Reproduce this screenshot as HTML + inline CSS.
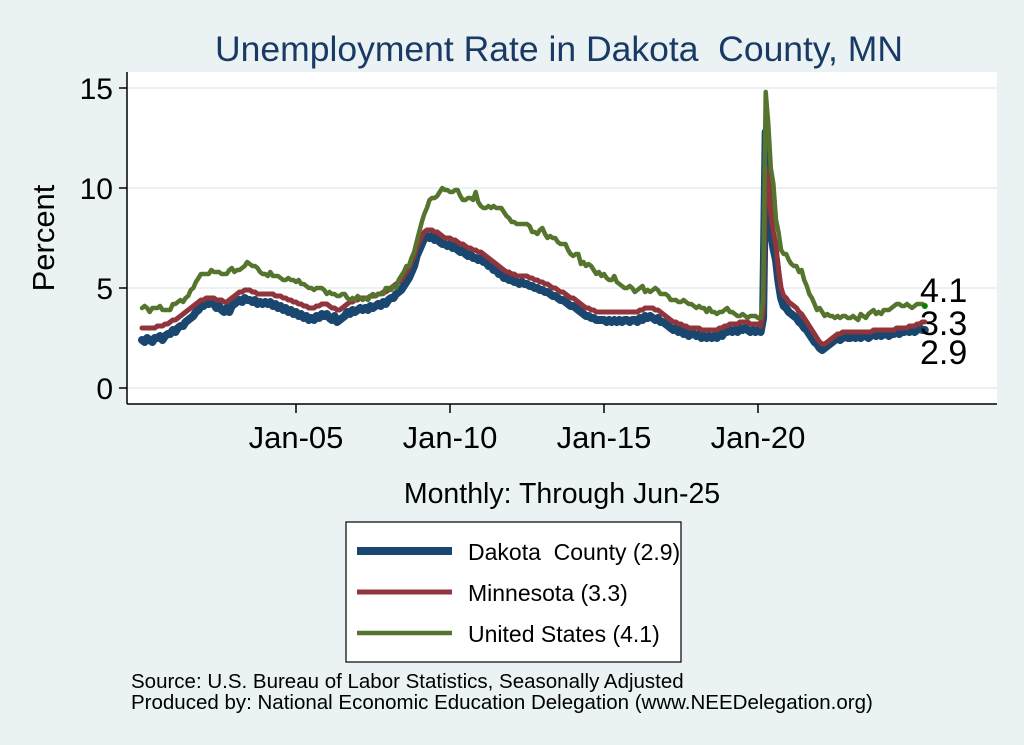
<!DOCTYPE html>
<html><head><meta charset="utf-8"><style>
body{margin:0;background:#eaf2f3;}
svg{display:block;font-family:"Liberation Sans",sans-serif;}
</style></head><body>
<svg id="c" width="1024" height="745" viewBox="0 0 1024 745">
<rect x="0" y="0" width="1024" height="745" fill="#eaf2f3"/>
<text x="559" y="61" text-anchor="middle" font-size="35.5" fill="#1a3a66" xml:space="preserve">Unemployment Rate in Dakota  County, MN</text>
<rect x="127" y="72" width="870" height="332" fill="#fff"/>
<g id="grid"></g>
<g id="series"></g>
<line x1="127" y1="72" x2="127" y2="404" stroke="#000" stroke-width="1.5"/>
<line x1="127" y1="404" x2="997" y2="404" stroke="#000" stroke-width="1.5"/>
<g id="axes"></g>
<text transform="translate(54,238) rotate(-90)" text-anchor="middle" font-size="31">Percent</text>
<text x="562" y="503" text-anchor="middle" font-size="28.5">Monthly: Through Jun-25</text>
<g>
<rect x="346" y="522" width="335" height="140" fill="#fff" stroke="#000" stroke-width="1.2"/>
<line x1="357" y1="551" x2="452" y2="551" stroke="#1a476f" stroke-width="8"/>
<text x="468" y="560" font-size="23" xml:space="preserve">Dakota  County (2.9)</text>
<line x1="357" y1="592" x2="452" y2="592" stroke="#90353b" stroke-width="5"/>
<text x="468" y="601" font-size="23">Minnesota (3.3)</text>
<line x1="357" y1="633" x2="452" y2="633" stroke="#55752f" stroke-width="4.5"/>
<text x="468" y="642" font-size="23">United States (4.1)</text>
</g>
<text x="131" y="688" font-size="20.5">Source: U.S. Bureau of Labor Statistics, Seasonally Adjusted</text>
<text x="131" y="709" font-size="20.5">Produced by: National Economic Education Delegation (www.NEEDelegation.org)</text>
</svg>
<script>
const startYear = 2000;
const yTicks = [0, 5, 10, 15];
const xTickYears = [2005, 2010, 2015, 2020];
const xTickLabels = ["Jan-05", "Jan-10", "Jan-15", "Jan-20"];
const usRate = [
4.0,4.1,4.0,3.8,4.0,4.0,4.0,4.1,3.9,3.9,3.9,3.9,
4.2,4.2,4.3,4.4,4.3,4.5,4.6,4.9,5.0,5.3,5.5,5.7,
5.7,5.7,5.7,5.9,5.8,5.8,5.8,5.7,5.7,5.7,5.9,6.0,
5.8,5.9,5.9,6.0,6.1,6.3,6.2,6.1,6.1,6.0,5.8,5.7,
5.7,5.6,5.8,5.6,5.6,5.6,5.5,5.4,5.4,5.5,5.4,5.4,
5.3,5.4,5.2,5.2,5.1,5.0,5.0,4.9,5.0,5.0,5.0,4.9,
4.7,4.8,4.7,4.7,4.6,4.6,4.7,4.7,4.5,4.4,4.5,4.4,
4.6,4.5,4.4,4.5,4.4,4.6,4.7,4.6,4.7,4.7,4.7,5.0,
5.0,4.9,5.1,5.0,5.4,5.6,5.8,6.1,6.1,6.5,6.8,7.3,
7.8,8.3,8.7,9.0,9.4,9.5,9.5,9.6,9.8,10.0,9.9,9.9,
9.8,9.8,9.9,9.9,9.6,9.4,9.4,9.5,9.5,9.4,9.8,9.3,
9.1,9.0,9.0,9.1,9.0,9.1,9.0,9.0,9.0,8.8,8.6,8.5,
8.3,8.3,8.2,8.2,8.2,8.2,8.2,8.1,7.8,7.8,7.7,7.9,
8.0,7.7,7.5,7.6,7.5,7.5,7.3,7.2,7.2,7.2,6.9,6.7,
6.6,6.7,6.7,6.2,6.3,6.1,6.2,6.1,5.9,5.7,5.8,5.6,
5.7,5.5,5.4,5.4,5.6,5.3,5.2,5.1,5.0,5.0,5.1,5.0,
4.8,4.9,5.0,5.1,4.8,4.9,4.8,4.9,5.0,4.9,4.7,4.7,
4.7,4.6,4.4,4.4,4.4,4.3,4.3,4.4,4.3,4.2,4.2,4.1,
4.0,4.1,4.0,4.0,3.8,4.0,3.8,3.8,3.7,3.8,3.8,3.9,
4.0,3.8,3.8,3.7,3.6,3.6,3.7,3.6,3.5,3.6,3.6,3.6,
3.5,3.5,4.4,14.8,13.2,11.0,10.2,8.4,7.8,6.9,6.7,6.7,
6.4,6.2,6.1,6.1,5.8,5.9,5.4,5.1,4.7,4.5,4.2,3.9,
4.0,3.8,3.6,3.7,3.6,3.6,3.5,3.6,3.5,3.6,3.6,3.5,
3.5,3.6,3.5,3.4,3.7,3.6,3.5,3.7,3.8,3.9,3.7,3.8,
3.7,3.9,3.9,3.9,4.0,4.1,4.2,4.2,4.1,4.1,4.2,4.1,
4.0,4.1,4.2,4.2,4.2,4.1];
const mnRate = [
3.0,3.0,3.0,3.0,3.0,3.0,3.1,3.1,3.1,3.2,3.2,3.3,
3.4,3.4,3.5,3.6,3.7,3.8,3.9,4.0,4.1,4.2,4.3,4.4,
4.4,4.5,4.5,4.5,4.5,4.4,4.4,4.4,4.3,4.3,4.4,4.5,
4.6,4.7,4.8,4.8,4.9,4.9,4.9,4.8,4.8,4.7,4.7,4.7,
4.7,4.7,4.7,4.7,4.6,4.6,4.6,4.5,4.5,4.4,4.4,4.3,
4.3,4.2,4.2,4.1,4.1,4.0,4.0,4.0,4.1,4.1,4.2,4.2,
4.2,4.1,4.0,4.0,3.9,3.9,4.0,4.1,4.2,4.3,4.3,4.4,
4.4,4.5,4.5,4.5,4.5,4.6,4.6,4.6,4.7,4.7,4.8,4.8,
4.9,5.0,5.1,5.2,5.3,5.4,5.6,5.8,6.0,6.3,6.6,7.0,
7.3,7.6,7.8,7.9,7.9,7.9,7.8,7.8,7.7,7.6,7.5,7.5,
7.5,7.4,7.4,7.3,7.2,7.2,7.1,7.0,7.0,6.9,6.9,6.8,
6.8,6.7,6.6,6.5,6.4,6.3,6.2,6.1,6.0,5.9,5.8,5.8,
5.7,5.7,5.6,5.6,5.6,5.6,5.6,5.5,5.5,5.4,5.4,5.3,
5.3,5.2,5.2,5.1,5.0,5.0,4.9,4.8,4.8,4.7,4.6,4.5,
4.5,4.4,4.3,4.2,4.1,4.0,4.0,3.9,3.9,3.8,3.8,3.8,
3.8,3.8,3.8,3.8,3.8,3.8,3.8,3.8,3.8,3.8,3.8,3.8,
3.8,3.8,3.9,3.9,4.0,4.0,4.0,4.0,3.9,3.9,3.8,3.7,
3.6,3.5,3.4,3.3,3.3,3.2,3.2,3.1,3.1,3.0,3.0,3.0,
3.0,3.0,2.9,2.9,2.9,2.9,2.9,2.9,2.9,3.0,3.0,3.1,
3.1,3.2,3.2,3.2,3.2,3.3,3.3,3.3,3.3,3.2,3.2,3.2,
3.2,3.1,3.8,11.0,10.4,8.7,7.8,7.1,5.9,5.0,4.6,4.5,
4.3,4.2,4.1,4.0,3.8,3.7,3.5,3.3,3.1,2.9,2.7,2.5,
2.3,2.2,2.2,2.3,2.4,2.5,2.6,2.7,2.7,2.8,2.8,2.8,
2.8,2.8,2.8,2.8,2.8,2.8,2.8,2.8,2.8,2.9,2.9,2.9,
2.9,2.9,2.9,2.9,2.9,2.9,3.0,3.0,3.0,3.0,3.0,3.1,
3.1,3.1,3.2,3.2,3.3,3.3];
const dakotaRate = [
2.4,2.3,2.5,2.4,2.3,2.5,2.5,2.6,2.4,2.6,2.7,2.7,
2.9,2.8,3.0,3.1,3.1,3.3,3.4,3.5,3.6,3.8,3.9,4.1,
4.1,4.3,4.2,4.3,4.2,4.0,4.1,3.9,3.8,4.0,3.8,4.1,
4.2,4.3,4.4,4.3,4.5,4.4,4.4,4.3,4.4,4.2,4.3,4.2,
4.3,4.2,4.3,4.1,4.2,4.0,4.1,3.9,4.0,3.8,3.9,3.7,
3.8,3.6,3.7,3.5,3.6,3.4,3.5,3.4,3.6,3.5,3.7,3.6,
3.7,3.5,3.4,3.6,3.3,3.4,3.5,3.6,3.8,3.7,3.9,3.8,
3.9,4.0,3.9,4.0,3.9,4.1,4.0,4.1,4.2,4.1,4.3,4.2,
4.4,4.5,4.5,4.7,4.8,4.9,5.1,5.3,5.5,5.8,6.1,6.6,
6.9,7.2,7.5,7.6,7.5,7.6,7.4,7.5,7.3,7.2,7.2,7.1,
7.2,7.0,7.1,6.9,6.8,6.9,6.7,6.6,6.7,6.5,6.5,6.4,
6.5,6.3,6.3,6.1,6.1,5.9,5.9,5.7,5.7,5.5,5.5,5.4,
5.4,5.3,5.3,5.2,5.3,5.2,5.2,5.1,5.1,5.0,5.0,4.9,
4.9,4.8,4.8,4.7,4.6,4.6,4.5,4.4,4.4,4.3,4.2,4.1,
4.1,4.0,3.9,3.8,3.7,3.6,3.6,3.5,3.5,3.4,3.4,3.4,
3.4,3.3,3.4,3.3,3.4,3.3,3.4,3.3,3.4,3.4,3.3,3.4,
3.4,3.3,3.5,3.4,3.6,3.5,3.6,3.5,3.4,3.5,3.3,3.3,
3.2,3.1,3.0,2.9,3.0,2.8,2.9,2.7,2.8,2.6,2.7,2.7,
2.6,2.7,2.5,2.6,2.5,2.6,2.5,2.6,2.5,2.7,2.6,2.8,
2.8,2.9,2.8,2.9,2.8,3.0,2.9,3.0,2.9,2.8,2.9,2.8,
2.9,2.8,3.5,12.8,9.5,7.8,7.0,6.4,5.3,4.5,4.1,4.0,
3.8,3.7,3.6,3.5,3.3,3.2,3.0,2.9,2.7,2.5,2.3,2.2,
2.0,1.9,2.0,2.1,2.2,2.3,2.4,2.5,2.4,2.5,2.6,2.5,
2.5,2.6,2.5,2.6,2.5,2.6,2.6,2.5,2.6,2.7,2.6,2.7,
2.6,2.7,2.7,2.6,2.7,2.7,2.8,2.7,2.8,2.8,2.9,2.8,
2.9,2.8,2.9,3.0,2.9,2.9];

const NS = "http://www.w3.org/2000/svg";
function xScale(monthIndex){ return 142 + monthIndex * (154 / 60); }
function yScale(v){ return 388 - v * 20; }
const grid = document.getElementById("grid");
const axes = document.getElementById("axes");
const series = document.getElementById("series");

yTicks.forEach(t => {
  const g = document.createElementNS(NS, "line");
  g.setAttribute("x1", 128); g.setAttribute("x2", 997);
  g.setAttribute("y1", yScale(t)); g.setAttribute("y2", yScale(t));
  g.setAttribute("stroke", "#eaf2f3"); g.setAttribute("stroke-width", "2");
  
  
  grid.appendChild(g);
  const tk = document.createElementNS(NS, "line");
  tk.setAttribute("x1", 119); tk.setAttribute("x2", 127);
  tk.setAttribute("y1", yScale(t)); tk.setAttribute("y2", yScale(t));
  tk.setAttribute("stroke", "#000"); tk.setAttribute("stroke-width", "1.5");
  
  
  axes.appendChild(tk);
  const lb = document.createElementNS(NS, "text");
  lb.setAttribute("x", 113); lb.setAttribute("y", yScale(t) + 11);
  lb.setAttribute("text-anchor", "end"); lb.setAttribute("font-size", "30");
  lb.textContent = String(t);
  
  
  axes.appendChild(lb);
});

xTickYears.forEach((yr, i) => {
  const x = xScale((yr - startYear) * 12);
  const tk = document.createElementNS(NS, "line");
  tk.setAttribute("x1", x); tk.setAttribute("x2", x);
  tk.setAttribute("y1", 404); tk.setAttribute("y2", 413);
  tk.setAttribute("stroke", "#000"); tk.setAttribute("stroke-width", "1.5");
  
  
  axes.appendChild(tk);
  const lb = document.createElementNS(NS, "text");
  lb.setAttribute("x", x); lb.setAttribute("y", 448);
  lb.setAttribute("text-anchor", "middle"); lb.setAttribute("font-size", "31");
  lb.textContent = xTickLabels[i];
  
  
  axes.appendChild(lb);
});

function drawLine(vals, color, width, name){
  const p = document.createElementNS(NS, "polyline");
  p.setAttribute("points", vals.map((v, i) => xScale(i).toFixed(1) + "," + yScale(v).toFixed(1)).join(" "));
  p.setAttribute("fill", "none"); p.setAttribute("stroke", color);
  p.setAttribute("stroke-width", width); p.setAttribute("stroke-linejoin", "round");
  p.setAttribute("stroke-linecap", "round");
  
  
  series.appendChild(p);
}
drawLine(dakotaRate, "#1a476f", 8, "dakota-line");
drawLine(mnRate, "#90353b", 5, "minnesota-line");
drawLine(usRate, "#55752f", 4.5, "us-line");

const last = usRate.length - 1;
const dot = document.createElementNS(NS, "circle");
dot.setAttribute("cx", xScale(last)); dot.setAttribute("cy", yScale(usRate[last]));
dot.setAttribute("r", 3); dot.setAttribute("fill", "#008000");


series.appendChild(dot);

const endVals = [usRate[last], mnRate[mnRate.length-1], dakotaRate[dakotaRate.length-1]];
const endNames = ["us-end-label", "minnesota-end-label", "dakota-end-label"];
const endOffsets = [-4, 13, 34];
endVals.forEach((v, i) => {
  const t = document.createElementNS(NS, "text");
  t.setAttribute("x", 920);
  t.setAttribute("y", yScale(v) + endOffsets[i]);
  t.setAttribute("font-size", "34");
  t.textContent = v.toFixed(1);
  
  
  series.appendChild(t);
});
</script>
</body></html>
